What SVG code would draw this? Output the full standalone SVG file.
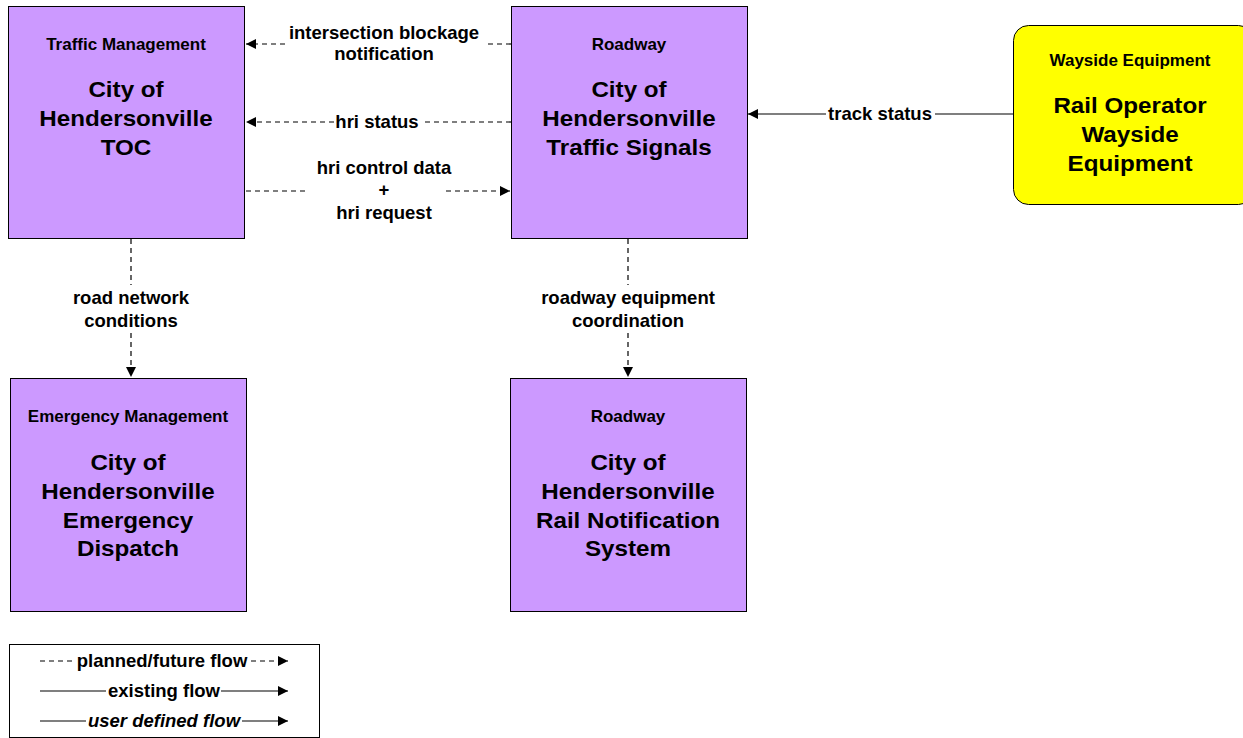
<svg xmlns="http://www.w3.org/2000/svg" width="1243" height="738" viewBox="0 0 1243 738">
<style>
.box{fill:#CC99FF;stroke:#000;stroke-width:1}
.ybox{fill:#FFFF00;stroke:#000;stroke-width:1}
text{font-family:"Liberation Sans",Arial,sans-serif;font-weight:bold;fill:#000;text-anchor:middle}
.t{font-size:17px}
.m{font-size:22px}
.l{font-size:18.5px}
.d{stroke:#000;stroke-width:1.2;stroke-dasharray:5,4;fill:none}
.s{stroke:#000;stroke-width:1.2;fill:none}
</style>
<defs>
<marker id="ah" viewBox="0 0 10 10" refX="10" refY="5" markerWidth="10" markerHeight="10" markerUnits="userSpaceOnUse" orient="auto">
<path d="M0,0 L10,5 L0,10 z" fill="#000"/>
</marker>
</defs>
<rect width="1243" height="738" fill="#fff"/>
<g id="toc">
<rect class="box" x="8.5" y="6.5" width="236" height="232"/>
<text class="t" x="126" y="50">Traffic Management</text>
<text class="m" transform="translate(126,97) scale(1.1,1)">City of</text>
<text class="m" transform="translate(126,126) scale(1.1,1)">Hendersonville</text>
<text class="m" transform="translate(126,155) scale(1.1,1)">TOC</text>
</g>
<g id="signals">
<rect class="box" x="511.5" y="6.5" width="236" height="232"/>
<text class="t" x="629" y="50">Roadway</text>
<text class="m" transform="translate(629,97) scale(1.1,1)">City of</text>
<text class="m" transform="translate(629,126) scale(1.1,1)">Hendersonville</text>
<text class="m" transform="translate(629,155) scale(1.1,1)">Traffic Signals</text>
</g>
<g id="wayside">
<rect class="ybox" x="1013.5" y="25.5" width="240" height="179" rx="15" ry="15"/>
<text class="t" x="1130" y="66">Wayside Equipment</text>
<text class="m" transform="translate(1130,113) scale(1.1,1)">Rail Operator</text>
<text class="m" transform="translate(1130,142) scale(1.1,1)">Wayside</text>
<text class="m" transform="translate(1130,171) scale(1.1,1)">Equipment</text>
</g>
<g id="emergency">
<rect class="box" x="10.5" y="378.5" width="236" height="233"/>
<text class="t" x="128" y="422">Emergency Management</text>
<text class="m" transform="translate(128,470) scale(1.1,1)">City of</text>
<text class="m" transform="translate(128,499) scale(1.1,1)">Hendersonville</text>
<text class="m" transform="translate(128,528) scale(1.1,1)">Emergency</text>
<text class="m" transform="translate(128,556) scale(1.1,1)">Dispatch</text>
</g>
<g id="railnotif">
<rect class="box" x="510.5" y="378.5" width="236" height="233"/>
<text class="t" x="628" y="422">Roadway</text>
<text class="m" transform="translate(628,470) scale(1.1,1)">City of</text>
<text class="m" transform="translate(628,499) scale(1.1,1)">Hendersonville</text>
<text class="m" transform="translate(628,528) scale(1.1,1)">Rail Notification</text>
<text class="m" transform="translate(628,556) scale(1.1,1)">System</text>
</g>
<g id="connectors">
<path class="d" d="M511,44 H484"/>
<path class="d" d="M285,44 H246" marker-end="url(#ah)"/>
<text class="l" x="384" y="39">intersection blockage</text>
<text class="l" x="384" y="60">notification</text>
<path class="d" d="M511,122 H421"/>
<path class="d" d="M334,122 H246" marker-end="url(#ah)"/>
<text class="l" x="377" y="128">hri status</text>
<path class="d" d="M246,191 H306"/>
<path class="d" d="M446,191 H510" marker-end="url(#ah)"/>
<text class="l" x="384" y="174">hri control data</text>
<text class="l" x="384" y="196">+</text>
<text class="l" x="384" y="219">hri request</text>
<path class="s" d="M1013,114 H935"/>
<path class="s" d="M826,114 H748" marker-end="url(#ah)"/>
<text class="l" x="880" y="120">track status</text>
<path class="d" d="M131,239 V285"/>
<path class="d" d="M131,333 V377" marker-end="url(#ah)"/>
<text class="l" x="131" y="304">road network</text>
<text class="l" x="131" y="327">conditions</text>
<path class="d" d="M628,239 V285"/>
<path class="d" d="M628,333 V377" marker-end="url(#ah)"/>
<text class="l" x="628" y="304">roadway equipment</text>
<text class="l" x="628" y="327">coordination</text>
</g>
<g id="legend">
<rect x="9.5" y="644.5" width="310" height="93" fill="#fff" stroke="#000" stroke-width="1"/>
<path class="d" d="M40,661 H73"/>
<path class="d" d="M251,661 H288" marker-end="url(#ah)"/>
<text class="l" x="162" y="667">planned/future flow</text>
<path class="s" d="M40,691 H106"/>
<path class="s" d="M221,691 H288" marker-end="url(#ah)"/>
<text class="l" x="164" y="697">existing flow</text>
<path class="s" d="M40,721 H86"/>
<path class="s" d="M242,721 H288" marker-end="url(#ah)"/>
<text class="l" x="164" y="727" font-style="italic">user defined flow</text>
</g>
</svg>
